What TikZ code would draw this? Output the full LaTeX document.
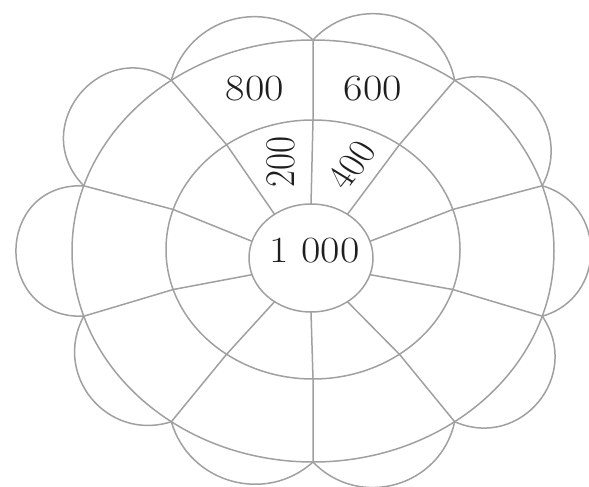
\documentclass[tikz,border=0pt]{standalone}
\usepackage{fontspec}
\definecolor{linecol}{RGB}{160,160,160}
\definecolor{txtcol}{RGB}{30,30,30}
\begin{document}
\begin{tikzpicture}[x=1pt,y=1pt,
  ringline/.style={draw=linecol,line width=1.5pt},
  lbl/.style={text=txtcol,inner sep=0pt,font=\fontsize{37}{40}\selectfont,xscale=1.14}]
\useasboundingbox (0,0) rectangle (589,487);
\clip (0,0) rectangle (589,487);
\foreach \i/\a in {0/90,1/54,2/18,3/-18,4/-54,5/-90,6/-126,7/-162,8/162,9/126}{
  \coordinate (c\i) at ({311+62*cos(\a)},{229+54*sin(\a)});
  \coordinate (b\i) at ({313+147*cos(\a)},{237.5+129.5*sin(\a)});
  \coordinate (a\i) at ({313+241*cos(\a)},{236+211*sin(\a)});
}
% rings
\draw[ringline] (311,229) ellipse [x radius=62pt, y radius=54pt];
\draw[ringline] (313,237.5) ellipse [x radius=147pt, y radius=129.5pt];
\draw[ringline] (313,236) ellipse [x radius=241pt, y radius=211pt];
% radial segments
\foreach \i in {0,...,9}{
  \draw[ringline] (c\i) -- (b\i) -- (a\i);
}
% petals
\draw[ringline] (a0) to[bend left=63,looseness=1.17] (a1);
\draw[ringline] (a1) to[bend left=68,looseness=1.23] (a2);
\draw[ringline] (a2) to[bend left=74,looseness=1.33] (a3);
\draw[ringline] (a3) to[bend left=74,looseness=1.34] (a4);
\draw[ringline] (a4) to[bend left=62,looseness=1.16] (a5);
\draw[ringline] (a5) to[bend left=58,looseness=1.11] (a6);
\draw[ringline] (a6) to[bend left=68,looseness=1.25] (a7);
\draw[ringline] (a7) to[bend left=92,looseness=1.78] (a8);
\draw[ringline] (a8) to[bend left=84,looseness=1.54] (a9);
\draw[ringline] (a9) to[bend left=59,looseness=1.13] (a0);
% labels
\node[lbl] (t1000) at (314.5,236) {1 000};
\node[lbl] (t800) at (255,398) {800};
\node[lbl] (t600) at (373,398) {600};
\node[lbl,rotate=90] (t200) at (281,325) {200};
\node[lbl,font=\fontsize{35}{37}\selectfont,rotate=55] (t400) at (352,322) {400};
\end{tikzpicture}
\end{document}
